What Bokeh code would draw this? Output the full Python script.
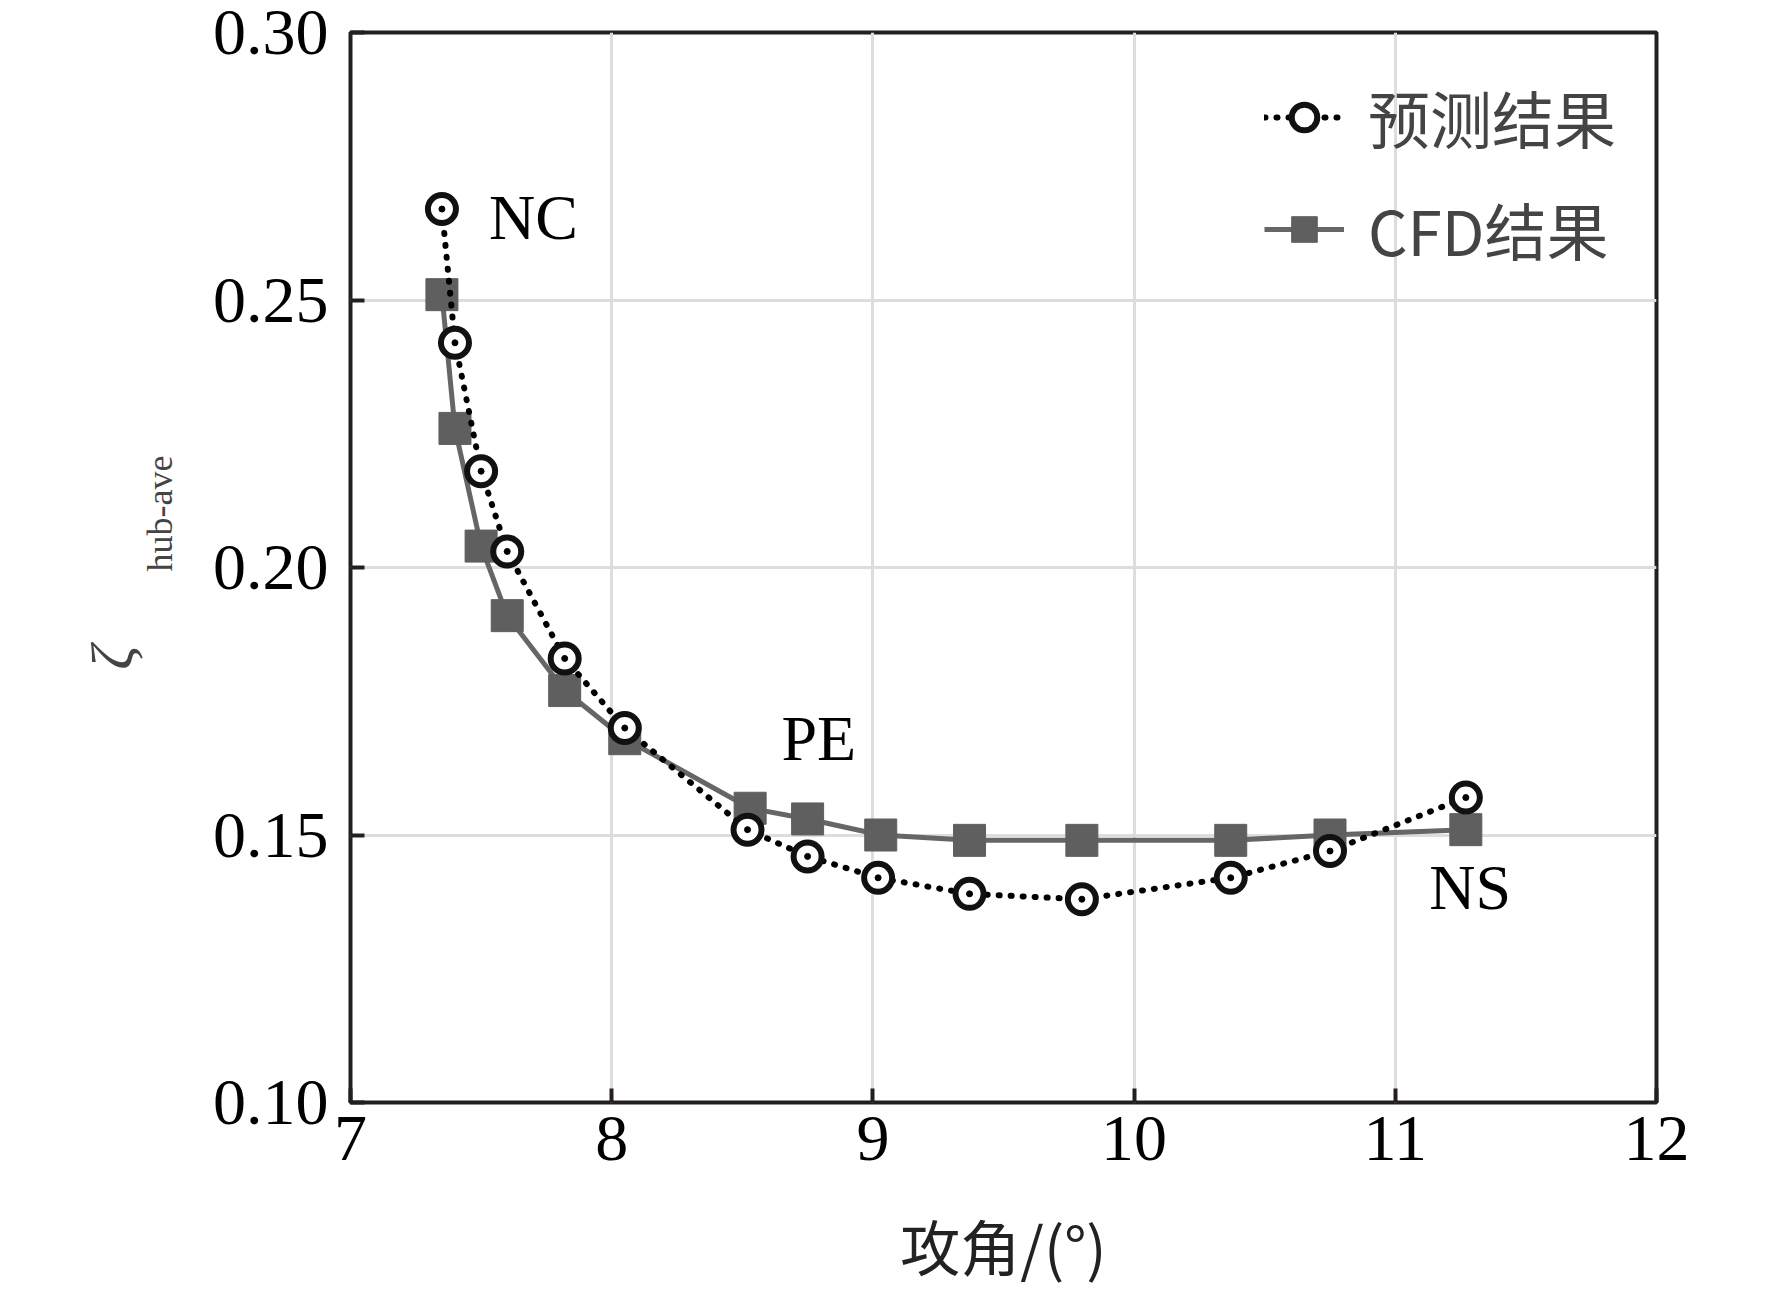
from bokeh.plotting import figure
from bokeh.models import Label, Legend, LegendItem, FixedTicker, Range1d, LinearAxis
from bokeh.embed import file_html
from bokeh.resources import INLINE

pred_x = [7.35, 7.40, 7.50, 7.60, 7.82, 8.05, 8.52, 8.75, 9.02, 9.37, 9.80, 10.37, 10.75, 11.27]
pred_y = [0.267, 0.242, 0.218, 0.203, 0.183, 0.170, 0.151, 0.146, 0.142, 0.139, 0.138, 0.142, 0.147, 0.157]
cfd_x = [7.35, 7.40, 7.50, 7.60, 7.82, 8.05, 8.53, 8.75, 9.03, 9.37, 9.80, 10.37, 10.75, 11.27]
cfd_y = [0.251, 0.226, 0.204, 0.191, 0.177, 0.168, 0.155, 0.153, 0.150, 0.149, 0.149, 0.149, 0.150, 0.151]
x_ticks = [7, 8, 9, 10, 11, 12]
y_ticks = [0.10, 0.15, 0.20, 0.25, 0.30]
y_tick_labels = {0.10: "0.10", 0.15: "0.15", 0.20: "0.20", 0.25: "0.25", 0.30: "0.30"}

SERIF = "Liberation Serif"
CJK = "Noto Sans CJK SC"

p = figure(width=1756, height=1290, output_backend="svg", toolbar_location=None,
           x_range=Range1d(7, 12), y_range=Range1d(0.10, 0.30),
           min_border_left=350, min_border_right=100, min_border_top=32, min_border_bottom=173)
p.outline_line_color = "#231f20"
p.outline_line_width = 4
p.xgrid.grid_line_color = "#dddddd"
p.ygrid.grid_line_color = "#dddddd"
p.xgrid.grid_line_width = 3
p.ygrid.grid_line_width = 3

for ax in (p.xaxis[0], p.yaxis[0]):
    ax.axis_line_color = None
    ax.major_tick_in = 14
    ax.major_tick_out = 0
    ax.major_tick_line_width = 4
    ax.major_tick_line_color = "#231f20"
    ax.minor_tick_line_color = None
    ax.major_label_text_font = SERIF
    ax.major_label_text_font_size = "66px"
    ax.major_label_text_color = "black"
p.xaxis.ticker = FixedTicker(ticks=x_ticks)
p.yaxis.ticker = FixedTicker(ticks=y_ticks)
p.yaxis.major_label_overrides = y_tick_labels
p.xaxis.major_label_standoff = 14
p.yaxis.major_label_standoff = 22
p.xaxis.axis_label = "攻角/(°)"
p.xaxis.axis_label_text_font = CJK
p.xaxis.axis_label_text_font_style = "normal"
p.xaxis.axis_label_text_font_size = "60px"
p.xaxis.axis_label_text_color = "#222222"
p.xaxis.axis_label_standoff = 38

p.yaxis.axis_label = "\u2003\u2003\u2003hub-ave"
p.yaxis.axis_label_text_font = SERIF
p.yaxis.axis_label_text_font_style = "normal"
p.yaxis.axis_label_text_font_size = "36px"
p.yaxis.axis_label_standoff = 30

zeta_axis = LinearAxis(axis_label="ζ\u2003\u2003\u2003", axis_label_text_font=SERIF,
                       axis_label_text_font_size="60px", axis_label_text_font_style="italic",
                       axis_label_standoff=-8, major_tick_line_color=None, minor_tick_line_color=None,
                       major_label_text_font_size="0px", axis_line_color=None,
                       ticker=FixedTicker(ticks=[]))
p.add_layout(zeta_axis, "left")

cl = p.line(cfd_x, cfd_y, line_color="#666666", line_width=5)
cs = p.scatter(cfd_x, cfd_y, marker="square", size=32, fill_color="#5f5f5f", line_color="#5f5f5f")
pl = p.line(pred_x, pred_y, line_color="black", line_width=6, line_dash="1 11", line_cap="round")
pc = p.scatter(pred_x, pred_y, marker="circle", size=28, fill_color="white", line_color="#111111", line_width=6)
pd = p.scatter(pred_x, pred_y, marker="circle", size=6, fill_color="black", line_color="black")

legend = Legend(items=[LegendItem(label="预测结果", renderers=[pl, pc]),
                       LegendItem(label="CFD结果", renderers=[cl, cs])],
                location="top_right", border_line_color=None, background_fill_alpha=0,
                label_text_font=CJK, label_text_font_size="62px", glyph_width=80,
                glyph_height=64, spacing=22, label_standoff=24, margin=40, padding=10)
p.add_layout(legend)

for t, x, y in [("NC", 7.53, 0.2587), ("PE", 8.65, 0.1614), ("NS", 11.13, 0.1336)]:
    p.add_layout(Label(x=x, y=y, text=t, text_font=SERIF, text_font_size="64px", text_color="black"))

open("out.html", "w").write(file_html(p, INLINE))
